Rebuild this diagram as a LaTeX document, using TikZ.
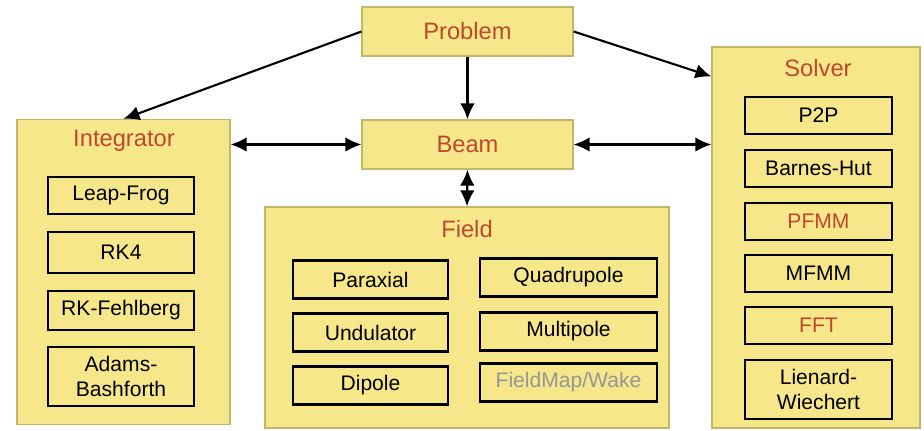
\documentclass[tikz,border=0pt]{standalone}
\usepackage{fontspec}
\setmainfont{Liberation Sans}
\usepackage{tikz}
\usetikzlibrary{arrows.meta,positioning,calc}
\usepackage{xcolor}
\definecolor{boxfill}{RGB}{246,231,138}
\definecolor{boxedge}{RGB}{196,182,104}
\definecolor{titlered}{RGB}{190,72,42}
\definecolor{greytext}{RGB}{150,150,150}

\begin{document}
\begin{tikzpicture}[
  x=0.02cm, y=-0.02cm,
  group/.style={draw=boxedge, line width=0.7pt, fill=boxfill, inner sep=0pt},
  top/.style={group, minimum width=4.22cm, minimum height=0.98cm, text=titlered, font=\fontsize{13.5}{16}\selectfont},
  title/.style={text=titlered, font=\fontsize{13.5}{16}\selectfont, inner sep=0pt},
  item/.style={draw=black, line width=1.2pt, inner sep=0pt, align=center, font=\fontsize{12}{14.5}\selectfont},
  link/.style={line width=1.2pt, -{Latex[length=3.2mm,width=2.9mm]}},
  both/.style={line width=1.2pt, {Latex[length=3.2mm,width=2.9mm]}-{Latex[length=3.2mm,width=2.9mm]}}
]
\useasboundingbox (0,0) rectangle (924,430);

% Top row
\node[top] (prob) at (467.5,31.5) {Problem};
\node[top] (beam) at (467.5,144.5) {Beam};

% Groups
\node[group, minimum width=4.26cm, minimum height=6.1cm] (integ) at (123.5,272) {};
\node[group, minimum width=4.16cm, minimum height=7.62cm] (solv) at (816,237.5) {};
\node[group, minimum width=8.08cm, minimum height=4.42cm] (field) at (467,317.5) {};

\node[title] (integT) at (124,141) {Integrator};
\node[title] (solvT) at (818,68) {Solver};
\node[title] (fieldT) at (467,229) {Field};

% Integrator column
\foreach \n/\y/\h/\t in {lf/195.5/0.74/Leap-Frog, rk/252.5/0.82/RK4,
    rkf/310.5/0.78/RK-Fehlberg, ab/376.5/1.18/{Adams-\\Bashforth}} {
  \node[item, minimum width=2.92cm, minimum height=\h cm] (\n) at (121,\y) {\t};
}

% Solver column
\foreach \n/\y/\h/\c/\t in {pp/115.5/0.74/black/P2P, bh/168.5/0.74/black/Barnes-Hut,
    pf/221.5/0.74/titlered/PFMM, mf/273.5/0.74/black/MFMM,
    fft/325.5/0.74/titlered/FFT, lw/389.5/1.18/black/{Lienard-\\Wiechert}} {
  \node[item, minimum width=2.94cm, minimum height=\h cm, text=\c] (\n) at (818.5,\y) {\t};
}

% Field grid
\foreach \n/\y/\t in {par/279.5/Paraxial, und/332.5/Undulator, dip/385.5/Dipole} {
  \node[item, minimum width=3.1cm, minimum height=0.76cm] (\n) at (370.5,\y) {\t};
}
\foreach \n/\y/\c/\t in {quad/277.5/black/Quadrupole, mult/331.5/black/Multipole,
    fmap/382.5/greytext/{FieldMap/Wake}} {
  \node[item, minimum width=3.54cm, minimum height=0.76cm, text=\c] (\n) at (568.5,\y) {\t};
}

% arrows
\draw[link] (prob) -- (beam);
\draw[link] (prob.west) -- (integ.north);
\draw[link] (prob.east) -- (solv.123.5);
\draw[both] (beam.west) -- (beam.west -| integ.east);
\draw[both] (beam.east) -- (beam.east -| solv.west);
\draw[both] (beam.south) -- (field.north);
\end{tikzpicture}
\end{document}
